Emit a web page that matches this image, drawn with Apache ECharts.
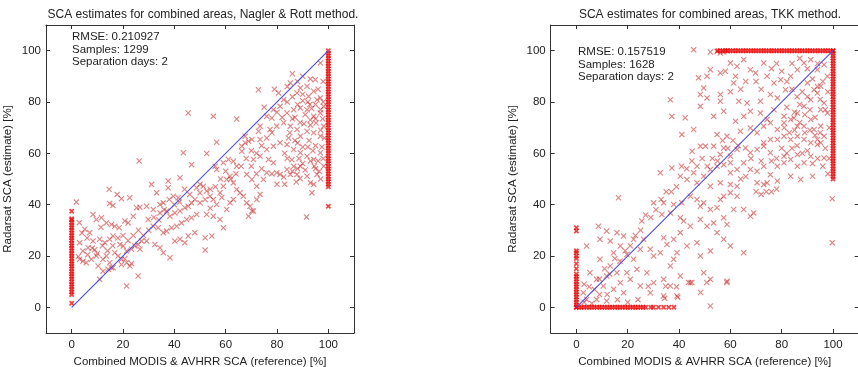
<!DOCTYPE html>
<html>
<head>
<meta charset="utf-8">
<script src="https://cdn.jsdelivr.net/npm/echarts@6/dist/echarts.min.js"></script>
<style>html,body{margin:0;padding:0;background:#fff}#c{width:858px;height:367px}</style>
</head>
<body>
<div id="c"></div>
<script>
// ---------- DATA ----------
const titles = ['SCA estimates for combined areas, Nagler & Rott method.', 'SCA estimates for combined areas, TKK method.'];
const statsNR = ['RMSE: 0.210927', 'Samples: 1299', 'Separation days: 2'];
const statsTKK = ['RMSE: 0.157519', 'Samples: 1628', 'Separation days: 2'];
const tickValues = [0, 20, 40, 60, 80, 100];
const xName = 'Combined MODIS & AVHRR SCA (reference) [%]';
const yName = 'Radarsat SCA (estimate) [%]';
const diag = [[0, 0], [100, 100]];

// Nagler & Rott scattered points [reference, estimate]
const nrScatter = [
[1.8,41],[14.6,46],[17.7,44],[19.4,42.3],[22.6,42.7],[14.8,40.5],[16.1,39.7],
[8.3,36.2],[9.6,34.2],[11.6,34.9],[13.5,32.9],[15.5,32.3],[16.8,31.6],[18.5,31],[20.7,33.6],[22,32.9],[25.3,38.8],[26.6,39],[24,35.5],
[5.1,30.4],[7,29.1],[3.1,25.2],[4.4,21.9],[6.4,23.2],[8.3,25.8],[10.9,26.5],[12.9,25.2],[14.8,26.5],[16.1,27.8],[18.8,24.5],[20.1,23.9],[21.4,21.9],[23.3,22.6],[24.6,23.9],[25.9,24.5],[27.2,25.8],
[3.1,18.7],[4.4,18],[5.7,17.4],[7.7,18.7],[9.6,20],[10.3,16.1],[12.2,18.7],[13.5,20],[14.8,17.4],[16.8,21.3],[18.1,20],[19.4,18.7],[21.4,17.4],[22.7,16.1],[12.2,14.1],[14.2,14.8],[16.1,15.4],[19.4,16.7],[23.3,17.1],[26.6,22.6],
[10.9,10.9],[15.5,15.4],[21.4,8.3],[25.9,12.2],[20.7,18.9],[6.2,20.5],[9,22.4],[11.4,31.2],[2.6,19.8],
[26.3,57],[31.1,47.9],[33.1,44.6],[34.4,40.1],[35.7,40.7],[37.6,49.2],[37.6,46.6],[39.6,43.3],[41.5,42.7],
[29.2,39.4],[31.8,38.1],[34.4,36.8],[37,37.5],[38.3,35.5],[40.2,36.8],[42.2,37.5],[44.1,38.8],[45.4,39.4],[46.7,40.7],
[29.8,34.2],[31.8,31.6],[33.7,31],[35.7,29.1],[37,29.7],[38.9,31],[40.9,31.6],[42.8,32.9],[44.8,34.2],[46.7,34.9],[48.7,36.2],
[29.2,25.8],[32.4,24.5],[34.4,23.2],[35.7,21.3],[38.3,19.3],[40.2,25.8],[42.2,26.5],[44.1,25.2],[45.4,27.8],[48,29.1],[52,27.1],[54.6,27.8],[52,22.3],
[42.2,50.5],[43.5,60.2],[46.7,55.6],[52.6,59.9],[55.9,55],[56.5,64.3],[56.5,53.7],[59.1,56.3],[61.1,57.6],[63,56.9],[64.3,55],[66.3,60.8],[67.6,64.1],[68.9,64.7],[70.2,65.4],[72.8,68.6],[73.4,65.4],
[48.7,46.6],[50,44.6],[51.3,47.2],[52.6,45.3],[53.9,43.3],[55.2,42],[56.5,40.1],[57.8,44.6],[59.1,47.2],[60.4,49.8],[61.7,51.1],[63,48.5],[64.3,45.9],[65.6,44.6],[66.9,43.3],[68.2,40.7],[69.5,39.4],[70.8,37.5],
[50,40.7],[52.6,36.2],[55.2,35.5],[57.8,34.2],[59.1,31],[60.4,38.1],[61.7,40.7],[63,42],[58.5,42.8],[54,38.6],
[45.4,75.7],[55.2,74.4],[64.3,73.4],[72.8,84.8],
[68.2,51.8],[70.2,49.8],[72.1,47.2],[73.4,44],[74.7,49.8],[76,52.4],[76.7,57.6],[78.6,56.3],[79.9,52.4],[81.2,51.8],[82.6,50.8],[83.9,53.7],[85.2,51.8],[86.5,55],[87.8,51.8],[89.1,55],[91.7,51.1],[93,48.5],[94.3,47.9],[95.6,51.8],[93.6,44.6],
[68.9,35.5],[70.2,37.5],[72.1,42],[91.5,35.2],[87.5,48.8],[89,50.2],
[70.8,57.6],[73.4,58.9],[76,61.5],[78.6,62.8],[81.2,64.1],[83.9,63.4],[86.5,61.5],[89.1,60.2],[91.7,58.9],[94.3,57.6],[96.9,60.2],[98.2,55],
[73.4,70.6],[77.3,69.3],[79.9,70.6],[82.6,71.9],[85.2,70.6],[87.8,69.3],[89.1,66.7],[91.7,68.6],[94.3,68],[96.9,66.7],[98.2,70.6],
[78.6,77],[81.2,78.3],[83.9,75.7],[86.5,77],[89.1,77.7],[91.7,77],[94.3,74.4],[96.9,75.7],[98.2,78.3],
[80.6,83.5],[82.6,80.9],[85.2,87.4],[87.8,83.5],[89.1,85.5],[91.7,86.1],[92.3,82.2],[94.3,84.2],[95.6,80.9],[96.9,81.6],[94.9,88.7],[96.9,95.2],
[76,74.4],[78,73.8],[66.3,62.8],[67.6,66.7],
[84.5,66],[88,64],[90.5,71.5],[93,73],[95,63],[97.5,62.5],[86,73.5],[90,80.5],[92.8,79],[95.2,71.8],[97.8,73.5],[83,60],[85.8,57.5],[88.6,58],[92,62.5],[94.5,55],[96.5,53],
[84,80],[86,82],[88,79],[90,83],[92,80],[93.5,77.5],[95,79],[97,77],[98,80],[87,74],[89,72],[91,75],[93,71],[95,73.5],[97,69],[98.5,66],[85,68],[87,65],[90,62.5],[92.5,65],[94,61],[96,57],[98,58],[84,58],[86,53],[88,54],[90,56],[91,53.5],[93,57],[95,54],[97,50],[83,48],[80,48],[78,52],[74,54],[72,52],[70,55],[68,58],[66,55],[64,52],[62,50],[60,53],[58,50],[56,47],[54,46],[52,42],[50,48],[48,42],[46,44],[44,46],[42,41],[40,40],[38,42],[36,38],[34,34],[32,35],[30,30],[28,28],[26,30],[24,28],[22,26],[20,28],[18,27],[16,24],[14,22],[12,24],[10,21],[8,23],[6,27],[4,29],[3,33],[78,68],[76,66],[74,63],[72,60],[70,61],[82,74],[80,76],[84,86],[88,88],[90,90],[93,89],[86,91],[96,85],[98,88],[75,78],[79,85]
];
// Nagler & Rott dense column at reference = 0 (estimate values)
const nrColumnAt0 = [37.4,34.5,34,33,32,31,30,29,28,27,26,25,24,23,22,21,20,19,18,17,16,15,14,13,12,11,10,9,8,7,6,5,1.6];
// Nagler & Rott dense column at reference = 100 (estimate values)
const nrColumnAt100 = [100,99,98,97,96,95,94,93,92,91,90,89,88,87,86,85,84,83,82,81,80,79,78,77,76,75,74,73,72,71,70,69,68,67,66,65,64,63,62,61,60,59,58,57,56,55,54,53,52,51,50,49,48,47,39.4];

// TKK scattered points [reference, estimate]
const tkkScatter = [
[45.7,100.4],[52.2,99.5],[54.8,99.7],[56.1,99.1],[57.4,99.5],[58.7,100],
[52.2,92.6],[50.9,90],[56.1,91.3],[60,95.2],[62.6,93.9],[65.2,96.5],[67.8,92.6],[69.8,91.3],[73,95.2],[74.3,90],[77,87.4],[79.6,88.7],[81.5,84.8],[83.5,90],[86.1,92.6],[88.7,95.2],[91.3,96.5],[93.9,92.6],[96.5,94.5],[90,87.4],[92.6,84.8],[95.2,86.1],[97.8,90],
[47.6,89.4],[49.6,85.5],[48.3,82.9],[50.9,81.6],[56.1,82.9],[56.1,80.3],[61.3,87.4],[63.3,80.3],[66.5,79.6],[71.7,80.3],[75.6,82.9],[78.3,81.6],
[36.6,80.9],[37.2,74.4],[42.4,73.9],[48.3,78.3],[53.5,74.4],[57.4,76.4],[62,72.5],[65.2,74.4],[67.8,76.4],[71.7,75.7],[74.3,73.2],[77,77],[80.9,74.4],[83.5,73.2],[86.1,75.7],[88.7,78.3],[91.3,80.9],[93.9,83.5],[96.5,79.6],[97.8,75.7],[95.2,77],
[41.1,67.3],[45.7,69.3],[54.8,67.3],[58.7,66.7],[63.9,68.6],[67.8,69.9],[70.4,68],[73,70.6],[75.6,71.9],[78.3,69.3],[80.9,71.9],[84.8,73.8],[86.1,70.6],[88.7,70.6],[91.3,73.2],[92.6,69.3],[95.2,70.6],[96.5,66.7],[93.9,65.4],[91.3,64.1],[88.7,65.4],[86.1,66.7],[83.5,65.4],[80.9,66.7],[78.3,65.4],[75.6,65.4],[73,64.1],
[45.1,60.8],[48.3,62.8],[50.3,62.8],[53.5,62.8],[57.4,62.1],[56.1,59.5],[60,58.9],[62.6,61.5],[65.9,62.1],[67.8,60.2],[70.4,61.5],[73,62.8],[75.6,60.2],[80.9,58.9],[86.1,59.5],[91.3,58.9],[93.9,63.4],[95.2,64.1],[96.5,58.2],
[32.7,52.4],[37.2,54.3],[40.5,51.1],[43.1,49.8],[45.7,52.4],[47,48.5],[49.6,51.1],[52.2,53.7],[54.8,55],[57.4,55.6],[60,56.3],[60,52.4],[62.6,53.7],[65.2,56.3],[67.8,53.7],[70.4,53],[73,55],[75.6,51.7],[78.3,55],[80.9,56.3],[83.5,57.6],[86.1,55],[88.7,56.3],[92,51.1],[87.4,49.8],[83.5,51.1],
[52.2,47.2],[56.1,48.5],[60,47.9],[62.6,47.2],[70.4,48.5],[73,47.9],[74.3,48.5],[78.3,49.2],
[30.1,40.7],[34,40.7],[37.9,40.1],[41.1,40.7],[44.4,43.3],[47,42],[48.3,39.4],[49.6,40.7],[52.2,38.1],[54.8,38.8],[56.1,42],[57.4,43.3],[60,44.6],[62.6,43.3],
[16.4,42.7],[33.3,36.2],[36.6,36.8],[40.5,34.9],[41.8,33.6],[44.4,31.6],[48.3,34.2],[50.9,31.6],[53.5,32.9],[57.4,34.9],[58.7,32.3],[61.3,38.1],[65.2,38.1],[67.8,35.5],[69.1,36.8],
[8.6,31.6],[11.8,29.7],[15.8,29.1],[18.4,27.8],[22.3,26.5],[25.5,33.6],[26.2,26.5],[28.8,22.6],[34,27.1],[35.3,24.5],[37.9,26.5],[40.5,29.1],[43.1,23.9],[47,25.2],[52.2,21.9],[54.8,29.1],[57.4,26.5],[60,23.9],[65.2,21.3],
[4,23.9],[9.2,26.5],[13.2,25.8],[14.5,21.3],[17.1,23.9],[19.7,20.6],[22.3,18.7],[24.9,22.6],[30.1,20],[32.7,21.3],[36.6,16.1],[37.9,18.7],[39.2,21.3],
[9.2,18.7],[13.2,16.1],[15.8,13.5],[19.7,13.5],[21,10.9],[23.6,14.8],[27.5,13.5],[30.1,9.6],[34,10.9],[36.6,8.3],[40.5,12.2],[44.4,9.6],[49.6,13.5],[52.2,10.9],[58.7,10.2],[48.3,20],
[5.3,13.5],[7.9,10.9],[10.5,8.3],[11.8,12.2],[14.5,7],[17.1,9.6],[18.4,5.7],[24.9,8.3],[28.8,5.7],[34,4.4],[39.2,4.4],[2.7,5.7],[4,3.1],[7.9,3.1],[11.8,2.5],[52.2,0.5],
[28,8.2],[34.8,8.2],[39,8],[43.7,9.7],[45,9.7],[50.8,9.7],[58.6,9.7],[48.4,5.8],[39.5,3.9],[34.4,3.5],
[99.7,42.3],[99.7,25.2],
[82,88],[84,85],[86,82],[88,84],[90,82],[92,89],[94,86],[96,88],[98,84],[82,78],[85,76],[87,79],[89,75],[91,77],[93,74],[95,81],[97,77],[98.5,70],[81,70],[83,68],[85,69],[87,72],[89,68],[91,69],[93,67],[95,68],[97,62],[98.5,58],[80,62],[82,60],[84,62],[86,63],[88,60],[90,61],[92,56],[94,58],[96,55],[98,52],[76,57],[78,58],[72,57],[68,58],[66,51],[64,50],[70,45],[72,44],[74,45],[76,45],[78,46],[63,63],[61,65],[59,62],[57,65],[55,57],[53,58],[51,55],[49,58],[47,55],[45,57],[43,54],[41,55],[39,47],[37,45],[35,45],[33,42],[31,38],[29,35],[27,36],[25,30],[23,28],[21,24],[19,22],[17,18],[15,19],[13,13],[11,15],[9,11],[7,7],[5,8],[3,9],[3,2],[6,1.5],[9,5],[12,5],[16,3],[20,2],[24,3],[70,88],[72,85],[66,88],[64,85],[60,84],[62,90],[58,92],[76,93],[78,95],[80,92],[84,95],[87,97],[90,93],[94,95]
];
// TKK dense column at reference = 0 (estimate values)
const tkkColumnAt0 = [0,1,2,3,4,5,6,7,8,9,10,11,12,13,15,17,19,20,21.3,22,29.7,31];
// TKK dense column at reference = 100 (estimate values)
const tkkColumnAt100 = [100,99,98,97,96,95,94,93,92,91,90,89,88,87,86,85,84,83,82,81,80,79,78,77,76,75,74,73,72,71,70,69,68,67,66,65,64,63,62,61,60,59,58,57,56,55,54,53,52,51,50];
// TKK dense row at estimate = 0 (reference values)
const tkkRowAt0 = [0,1,2,3,4,5,6,7,8,9,10,11,12,13,14,15,16,17,18,19,20,21,22,23,24,25,26,27,29,30,32,34,36,38];
// TKK dense row at estimate = 100 (reference values)
const tkkRowAt100 = [55,56,57,58,59,60,61,62,63,64,65,66,67,68,69,70,71,72,73,74,75,76,77,78,79,80,81,82,83,84,85,86,87,88,89,90,91,92,93,94,95,96,97,98,99,100];

// ---------- CHART ----------
const FONT = 'Liberation Sans, Arial, sans-serif';
const X_SYMBOL = 'path://M0,1.3L1.3,0L5,3.7L8.7,0L10,1.3L6.3,5L10,8.7L8.7,10L5,6.3L1.3,10L0,8.7L3.7,5Z';
const X_SYMBOL_BOLD = 'path://M0,2.3L2.3,0L5,2.7L7.7,0L10,2.3L7.3,5L10,7.7L7.7,10L5,7.3L2.3,10L0,7.7L2.7,5Z';
const grids = [
  { left: 46, top: 25, width: 308, height: 308, outerBoundsMode: 'none', containLabel: false },
  { left: 550.7, top: 25, width: 308, height: 308, outerBoundsMode: 'none', containLabel: false }
];
const axisLineStyle = { color: '#333', width: 1 };
const tickStyle = { show: true, inside: true, length: 4, customValues: tickValues, lineStyle: axisLineStyle };
const labelFont = { fontFamily: FONT, fontSize: 11.5, color: '#222' };
function axis(i, pos, withLabels) {
  const isX = pos === 'bottom' || pos === 'top';
  const a = {
    type: 'value', gridIndex: i, min: -10, max: 110, position: pos,
    axisLine: { show: true, onZero: false, lineStyle: axisLineStyle },
    axisTick: tickStyle,
    axisLabel: withLabels ? Object.assign({ show: true, customValues: tickValues, margin: isX ? 6 : 5 }, labelFont) : { show: false },
    splitLine: { show: false }
  };
  if (withLabels) {
    a.name = isX ? xName : yName;
    a.nameLocation = 'middle';
    a.nameGap = isX ? 21 : 32;
    a.nameTextStyle = labelFont;
  }
  return a;
}
const nrData = nrScatter;
const nrDense = nrColumnAt0.map(y => [0, y]).concat(nrColumnAt100.map(y => [100, y]));
const tkkData = tkkScatter;
const tkkDense = tkkColumnAt0.map(y => [0, y])
  .concat(tkkColumnAt100.map(y => [100, y]))
  .concat(tkkRowAt0.map(x => [x, 0]))
  .concat(tkkRowAt100.map(x => [x, 100]));

function scatterSeries(idx, data, color, symbol, size) {
  return {
    type: 'scatter', xAxisIndex: idx * 2, yAxisIndex: idx * 2, data: data,
    symbol: symbol, symbolSize: size, silent: true, animation: false,
    itemStyle: { color: color }
  };
}
function diagSeries(idx) {
  return {
    type: 'line', xAxisIndex: idx * 2, yAxisIndex: idx * 2, data: diag,
    symbol: 'none', silent: true, animation: false, z: 5, color: '#4f4fe0',
    itemStyle: { color: '#4f4fe0' },
    lineStyle: { color: '#4f4fe0', width: 1.1 }
  };
}
function statText(lines, x, y) {
  return {
    type: 'text', left: x, top: y, silent: true,
    style: { text: lines.join('\n'), fontFamily: FONT, fontSize: 11.5, lineHeight: 12.5, fill: '#222' }
  };
}
const chart = echarts.init(document.getElementById('c'), null, { renderer: 'canvas' });
const SINGLE = 'rgba(200,40,40,0.72)';
const DENSE = 'rgba(235,0,0,0.9)';
chart.setOption({
  animation: false,
  backgroundColor: '#fff',
  title: [
    { text: titles[0], left: 198, top: 4, textAlign: 'center', textStyle: { fontFamily: FONT, fontSize: 12, fontWeight: 'normal', color: '#222' } },
    { text: titles[1], left: 705, top: 4, textAlign: 'center', textStyle: { fontFamily: FONT, fontSize: 12, fontWeight: 'normal', color: '#222' } }
  ],
  grid: grids,
  xAxis: [axis(0, 'bottom', true), axis(0, 'top', false), axis(1, 'bottom', true), axis(1, 'top', false)],
  yAxis: [axis(0, 'left', true), axis(0, 'right', false), axis(1, 'left', true), axis(1, 'right', false)],
  series: [
    scatterSeries(0, nrData, SINGLE, X_SYMBOL, 6), scatterSeries(0, nrDense, DENSE, X_SYMBOL_BOLD, 5.5), diagSeries(0),
    scatterSeries(1, tkkData, SINGLE, X_SYMBOL, 6), scatterSeries(1, tkkDense, DENSE, X_SYMBOL_BOLD, 5.5), diagSeries(1)
  ],
  graphic: [statText(statsNR, 72, 31), statText(statsTKK, 578, 46)]
});
</script>
</body>
</html>
